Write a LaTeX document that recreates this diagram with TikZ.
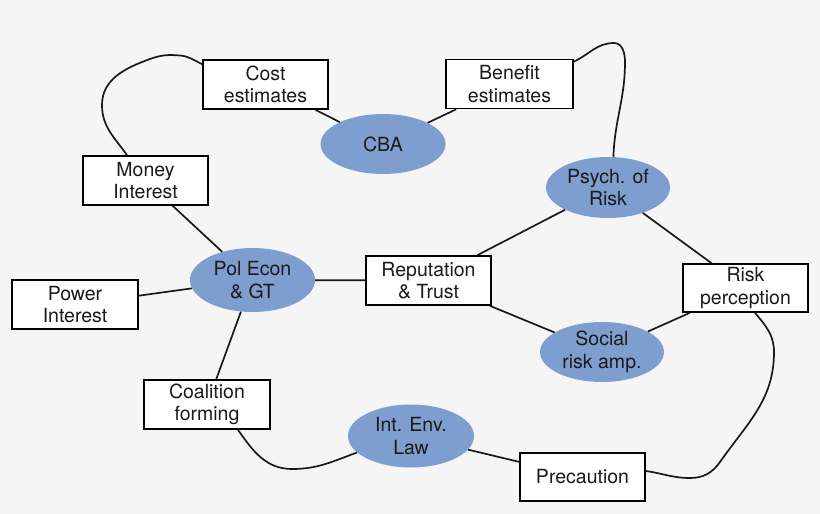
\documentclass[tikz,border=0pt]{standalone}
\usepackage{fontspec}
\setmainfont{TeX Gyre Heros}
\usetikzlibrary{shapes.geometric}
\definecolor{bg}{HTML}{F5F5F5}
\definecolor{ellfill}{RGB}{126,158,207}
\definecolor{txt}{HTML}{1A1A1A}
\tikzset{
  txtfont/.style={font=\fontsize{19.5}{22.5}\selectfont, align=center, text=txt},
  boxnode/.style={txtfont, draw=black, line width=1.7pt, fill=white, rectangle,
    minimum width=125pt, minimum height=49pt, inner sep=0pt},
  ellnode/.style={txtfont, ellipse, fill=ellfill, draw=none,
    minimum width=125pt, minimum height=62pt, inner sep=0pt},
  link/.style={line width=1.7pt, draw=black!90}
}
\begin{document}
\begin{tikzpicture}[x=1pt,y=1pt]
\useasboundingbox[fill=bg] (0,0) rectangle (820,-514);
% nodes
\node[boxnode] (cost) at (265.5,-84.5) {Cost\\estimates};
\node[boxnode, minimum width=127pt] (benefit) at (509.5,-84) {Benefit\\estimates};
\node[boxnode] (money) at (145.5,-180.5) {Money\\Interest};
\node[boxnode, minimum width=126pt] (power) at (75,-304.5) {Power\\Interest};
\node[boxnode] (reput) at (428.5,-280.5) {Reputation\\\& Trust};
\node[boxnode, minimum height=48pt] (riskp) at (745.5,-288) {Risk\\perception};
\node[boxnode, minimum width=126pt] (coal) at (207,-404.5) {Coalition\\forming};
\node[boxnode, minimum height=48pt] (prec) at (582.5,-477) {Precaution};
% links first (drawn behind ellipses)
\begin{scope}[on background layer/.try]
\end{scope}
\node[ellnode, minimum height=60pt] (cba) at (383,-144) {CBA};
\node[ellnode, minimum height=61pt, minimum width=124pt] (psych) at (608,-187.5) {Psych. of\\Risk};
\node[ellnode, minimum height=64pt] (polecon) at (252.5,-280) {Pol Econ\\\& GT};
\node[ellnode, minimum height=60pt, minimum width=124pt] (social) at (602,-352) {Social\\risk amp.};
\node[ellnode, minimum height=63pt, minimum width=126pt] (intlaw) at (411,-436) {Int. Env.\\Law};
% straight connectors
\draw[link] (cost) -- (cba);
\draw[link] (benefit) -- (cba);
\draw[link] (money) -- (polecon);
\draw[link] (power) -- (polecon);
\draw[link] (polecon) -- (reput);
\draw[link] (reput) -- (psych);
\draw[link] (reput) -- (social);
\draw[link] (psych) -- (riskp);
\draw[link] (social) -- (riskp);
\draw[link] (polecon) -- (coal);
\draw[link] (intlaw) -- (prec);
% curved connectors
\draw[link] ([xshift=-18.5pt]money.north) to[out=125,in=-90] (102,-105)
   to[out=90,in=200] (150,-59) to[out=20,in=175] (180,-55.5)
   to[out=-5,in=155] ([yshift=-5pt]cost.north west);
\draw[link] ([yshift=-3pt]benefit.north east) to[out=25,in=180] (614,-43)
   to[out=0,in=90] (625,-62) to[out=-90,in=88] (psych.80);
\draw[link] ([xshift=9.5pt]riskp.south) to[out=-50,in=90] (774,-352)
   to[out=-90,in=55] (720,-462) to[out=-125,in=0] (690,-478)
   to[out=180,in=-8] ([yshift=6pt]prec.east);
\draw[link] ([xshift=31pt]coal.south) to[out=-55,in=180] (292,-469)
   to[out=0,in=200] (intlaw.197);
\end{tikzpicture}
\end{document}
